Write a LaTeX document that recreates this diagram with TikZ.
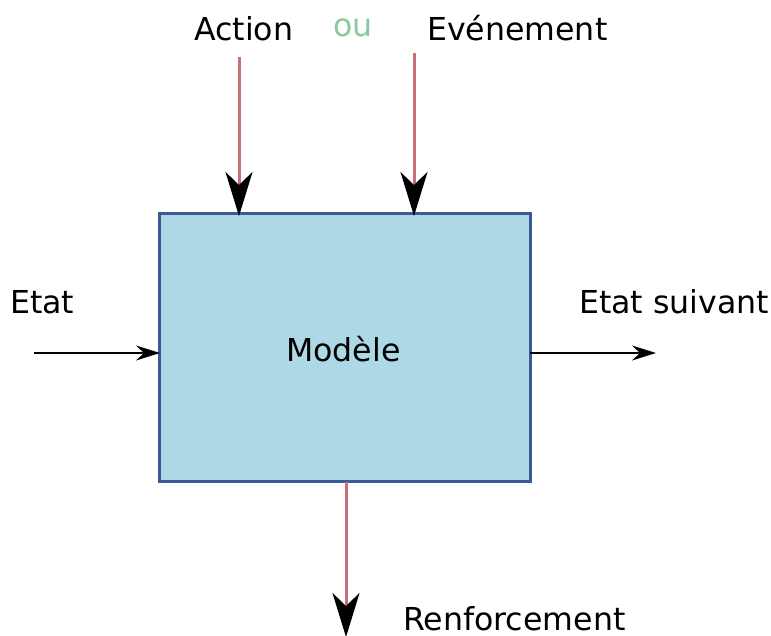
\documentclass[tikz,border=0pt]{standalone}
\usepackage{fontspec}
\setmainfont{DejaVu Sans}
\usetikzlibrary{arrows.meta}
\definecolor{boxfill}{HTML}{ADD8E6}
\definecolor{boxline}{HTML}{3C5A96}
\definecolor{redline}{HTML}{C8707A}
\definecolor{ougreen}{HTML}{8CC89A}
\tikzset{
  lbl/.style={font=\fontsize{31.6}{38}\selectfont, inner sep=0pt, anchor=base west},
  bigarrow/.style={draw=redline, line width=3pt, -{Stealth[length=44pt,width=27pt,inset=13pt,fill=black,color=black]}},
  smallarrow/.style={draw=black, line width=1.8pt, -{Stealth[length=24pt,width=15pt,inset=8pt]}},
}
\begin{document}
\begin{tikzpicture}[x=1pt,y=-1pt]
\useasboundingbox (0,0) rectangle (771,636);
\node[draw=boxline, fill=boxfill, line width=3pt, minimum width=371pt, minimum height=267pt, inner sep=0pt, outer sep=0pt] (model) at (344.5,347.5) {};
\node[lbl] (modeltxt) at (286,361) {Modèle};
\node[lbl] (action) at (194,41) {Action};
\node[lbl, text=ougreen] (ou) at (333,37) {ou};
\node[lbl] (event) at (427,41) {Evénement};
\node[lbl] (etat) at (10,314) {Etat};
\node[lbl] (suiv) at (579,314) {Etat suivant};
\node[lbl, text depth=0pt] (renf) at (403,630) {Renforcement};
\coordinate (a0) at (239,57);
\coordinate (a1) at (239,216);
\coordinate (e0) at (414,53);
\coordinate (e1) at (414,216);
\coordinate (s0) at (34,353);
\coordinate (s1) at (160,353);
\coordinate (n0) at (530,353);
\coordinate (n1) at (656,353);
\coordinate (r0) at (346,482);
\coordinate (r1) at (346,637);
\draw[bigarrow] (a0) -- (a1);
\draw[bigarrow] (e0) -- (e1);
\draw[bigarrow] (r0) -- (r1);
\draw[smallarrow] (s0) -- (s1);
\draw[smallarrow] (n0) -- (n1);
\end{tikzpicture}
\end{document}
